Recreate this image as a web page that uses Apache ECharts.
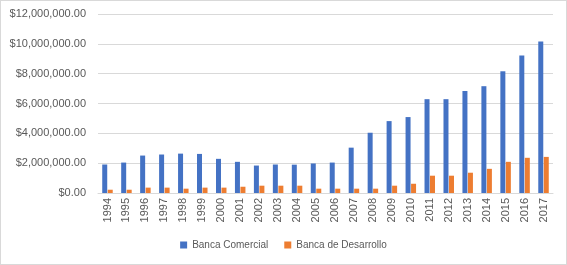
<!DOCTYPE html>
<html>
<head>
<meta charset="utf-8">
<script src="https://cdn.jsdelivr.net/npm/echarts@6/dist/echarts.min.js"></script>
<style>
  html, body { margin: 0; padding: 0; background: #fff; }
  #main { width: 565px; height: 263px; border: 1px solid #d9d9d9; }
</style>
</head>
<body>
<div id="main"></div>
<script>
  // datos
  var years = ['1994','1995','1996','1997','1998','1999','2000','2001','2002','2003','2004','2005',
               '2006','2007','2008','2009','2010','2011','2012','2013','2014','2015','2016','2017'];
  var bancaComercial = [1910000, 2040000, 2510000, 2580000, 2640000, 2620000, 2290000, 2090000,
                        1840000, 1910000, 1900000, 1980000, 2040000, 3040000, 4040000, 4820000,
                        5090000, 6290000, 6290000, 6840000, 7160000, 8160000, 9220000, 10160000];
  var bancaDesarrollo = [220000, 220000, 360000, 360000, 290000, 360000, 360000, 420000,
                         490000, 490000, 490000, 290000, 290000, 290000, 290000, 490000,
                         620000, 1160000, 1160000, 1360000, 1620000, 2090000, 2360000, 2420000];

  var myChart = echarts.init(document.getElementById('main'));

  var fmt = function (v) {
    return '$' + v.toLocaleString('en-US', { minimumFractionDigits: 2, maximumFractionDigits: 2 });
  };

  var option = {
    animation: false,
    textStyle: { fontFamily: 'Liberation Sans' },
    grid: { left: 97, right: 13, top: 13, bottom: 71 },
    legend: {
      bottom: 9,
      left: 'center',
      itemWidth: 7,
      itemHeight: 7,
      itemGap: 16,
      icon: 'rect',
      textStyle: { fontSize: 10, color: '#595959' },
      data: ['Banca Comercial', 'Banca de Desarrollo']
    },
    xAxis: {
      type: 'category',
      data: years,
      axisTick: { show: false },
      axisLine: { lineStyle: { color: '#d9d9d9' } },
      axisLabel: { rotate: 90, fontSize: 11, color: '#595959', margin: 5, interval: 0 }
    },
    yAxis: {
      type: 'value',
      min: 0,
      max: 12000000,
      interval: 2000000,
      axisLine: { show: false },
      axisTick: { show: false },
      axisLabel: { fontSize: 11, color: '#595959', margin: 12, formatter: fmt },
      splitLine: { lineStyle: { color: '#d9d9d9' } }
    },
    series: [{
      name: 'Banca Comercial',
      type: 'bar',
      barWidth: 5,
      barGap: '10%',
      data: bancaComercial,
      itemStyle: { color: '#4472C4' }
    }, {
      name: 'Banca de Desarrollo',
      type: 'bar',
      barWidth: 5,
      data: bancaDesarrollo,
      itemStyle: { color: '#ED7D31' }
    }]
  };

  myChart.setOption(option);
</script>
</body>
</html>
